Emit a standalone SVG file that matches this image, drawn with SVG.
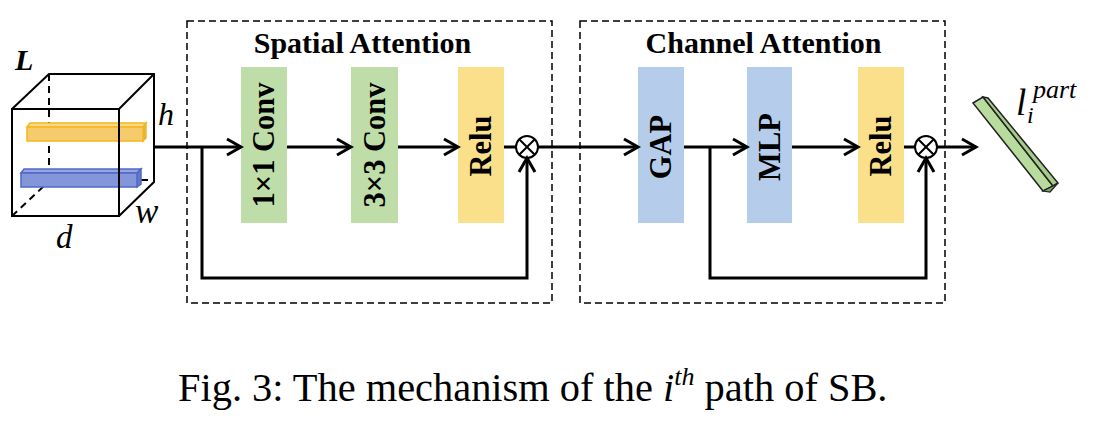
<svg xmlns="http://www.w3.org/2000/svg" width="1106" height="444" viewBox="0 0 1106 444">
<style>
.frame{fill:none;stroke:#000;stroke-width:1.5;stroke-dasharray:7 4}
.title{font-family:"Liberation Serif",serif;font-weight:bold;font-size:30px;text-anchor:middle}
.blab{font-family:"Liberation Serif",serif;font-weight:bold;font-size:30.5px;text-anchor:middle}
.green{fill:#BFDDA9}
.yellow{fill:#FAE08A}
.blue{fill:#B5CDEB}
.conn{fill:none;stroke:#000;stroke-width:3}
.edge{fill:none;stroke:#000;stroke-width:2}
.hid{fill:none;stroke:#000;stroke-width:2;stroke-dasharray:7 5}
.it{font-family:"Liberation Serif",serif;font-style:italic}
.otimes{fill:#fff;stroke:#000;stroke-width:2}
</style>
<defs>
<marker id="arr" viewBox="0 0 20 20" markerWidth="20" markerHeight="20" refX="16" refY="10" orient="auto" markerUnits="userSpaceOnUse">
<path d="M2,2 L16,10 L2,18" fill="none" stroke="#000" stroke-width="3"/>
</marker>
</defs>
<rect width="1106" height="444" fill="#fff"/>

<!-- Cube input L -->
<g id="cube">
<line class="hid" x1="49" y1="74" x2="49" y2="170"/>
<line class="hid" x1="12" y1="216" x2="44" y2="186"/>
<line class="edge" x1="141" y1="180" x2="148" y2="180"/>
<!-- yellow bar -->
<polygon points="27,127 30,123 146,123 143,127" fill="#F8D98A" stroke="#F2B81E" stroke-width="1.5"/>
<polygon points="143,127 146,123 146,138 143,141" fill="#E3B24A" stroke="#F2B81E" stroke-width="1.5"/>
<rect x="27" y="127" width="116" height="14" fill="#F6CB6C" stroke="#F2B81E" stroke-width="1.5"/>
<!-- blue bar -->
<polygon points="21,173 24,169 141,169 137,173" fill="#95A6E0" stroke="#5068C8" stroke-width="1.5"/>
<polygon points="137,173 141,169 141,184 137,187" fill="#6579C4" stroke="#5068C8" stroke-width="1.5"/>
<rect x="21" y="173" width="116" height="14" fill="#8296D9" stroke="#5068C8" stroke-width="1.5"/>
<rect class="edge" x="12" y="109" width="107" height="107"/>
<path class="edge" d="M12,109 L49,74 L154,74 L154,182 L119,216 M119,109 L154,74"/>
<text class="it" x="15" y="70" font-size="30" font-weight="bold">L</text>
<text class="it" x="158" y="125" font-size="32">h</text>
<text class="it" x="135" y="223" font-size="35">w</text>
<text class="it" x="56" y="248" font-size="33">d</text>
</g>

<!-- Spatial Attention -->
<g id="spatial-attention">
<rect class="frame" x="187" y="21" width="365" height="282"/>
<text class="title" x="362.5" y="53">Spatial Attention</text>
</g>
<g id="conv1x1">
<rect class="green" x="241" y="67" width="46" height="156"/>
<text class="blab" transform="translate(264,145) rotate(-90)" x="0" y="10">1×1 Conv</text>
</g>
<g id="conv3x3">
<rect class="green" x="351" y="67" width="47" height="156"/>
<text class="blab" transform="translate(374.5,145) rotate(-90)" x="0" y="10">3×3 Conv</text>
</g>
<g id="relu-sa">
<rect class="yellow" x="458" y="67" width="46" height="156"/>
<text class="blab" transform="translate(481,146) rotate(-90)" x="0" y="10">Relu</text>
</g>
<g id="mul-sa">
<circle class="otimes" cx="527" cy="147" r="11"/>
<path d="M519.2,139.2 L534.8,154.8 M534.8,139.2 L519.2,154.8" stroke="#000" stroke-width="2"/>
</g>

<!-- Channel Attention -->
<g id="channel-attention">
<rect class="frame" x="580" y="21" width="365" height="282"/>
<text class="title" x="763.5" y="53">Channel Attention</text>
</g>
<g id="gap">
<rect class="blue" x="638" y="67" width="46" height="156"/>
<text class="blab" transform="translate(661,147) rotate(-90)" x="0" y="10">GAP</text>
</g>
<g id="mlp">
<rect class="blue" x="747" y="67" width="45" height="156"/>
<text class="blab" transform="translate(769.5,147) rotate(-90)" x="0" y="10">MLP</text>
</g>
<g id="relu-ca">
<rect class="yellow" x="858" y="67" width="46" height="156"/>
<text class="blab" transform="translate(881,146) rotate(-90)" x="0" y="10">Relu</text>
</g>
<g id="mul-ca">
<circle class="otimes" cx="926" cy="147" r="11"/>
<path d="M918.2,139.2 L933.8,154.8 M933.8,139.2 L918.2,154.8" stroke="#000" stroke-width="2"/>
</g>

<!-- Output vector -->
<g id="output">
<polygon points="973,103 983,97 1053,186 1043,191" fill="#B8DC9E" stroke="#222" stroke-width="1.5"/>
<polygon points="983,97 988,98 1058,183 1053,186" fill="#A6CC8C" stroke="#222" stroke-width="1.5"/>
<polygon points="1043,191 1053,186 1058,183 1050,192" fill="#7FA866" stroke="#222" stroke-width="1.2"/>
<text class="it" x="1016" y="115" font-size="37">l</text>
<text class="it" x="1027" y="123" font-size="24">i</text>
<text class="it" x="1033" y="98" font-size="26">part</text>
</g>

<!-- Connectors -->
<g id="connectors">
<path class="conn" d="M154,147 H241" marker-end="url(#arr)"/>
<path class="conn" d="M287,147 H351" marker-end="url(#arr)"/>
<path class="conn" d="M398,147 H458" marker-end="url(#arr)"/>
<path class="conn" d="M504,147 H516"/>
<path class="conn" d="M202,147 V278 H527 V158" marker-end="url(#arr)"/>
<path class="conn" d="M538,147 H638" marker-end="url(#arr)"/>
<path class="conn" d="M684,147 H747" marker-end="url(#arr)"/>
<path class="conn" d="M792,147 H858" marker-end="url(#arr)"/>
<path class="conn" d="M904,147 H915"/>
<path class="conn" d="M710,147 V278 H926 V158" marker-end="url(#arr)"/>
<path class="conn" d="M937,147 H976" marker-end="url(#arr)"/>
</g>

<!-- Caption -->
<text x="178" y="401" font-family="Liberation Serif, serif" font-size="40.4">Fig. 3: The mechanism of the <tspan font-style="italic">i</tspan><tspan font-style="italic" font-size="26" dy="-16">th</tspan><tspan dy="16"> path of SB.</tspan></text>
</svg>
